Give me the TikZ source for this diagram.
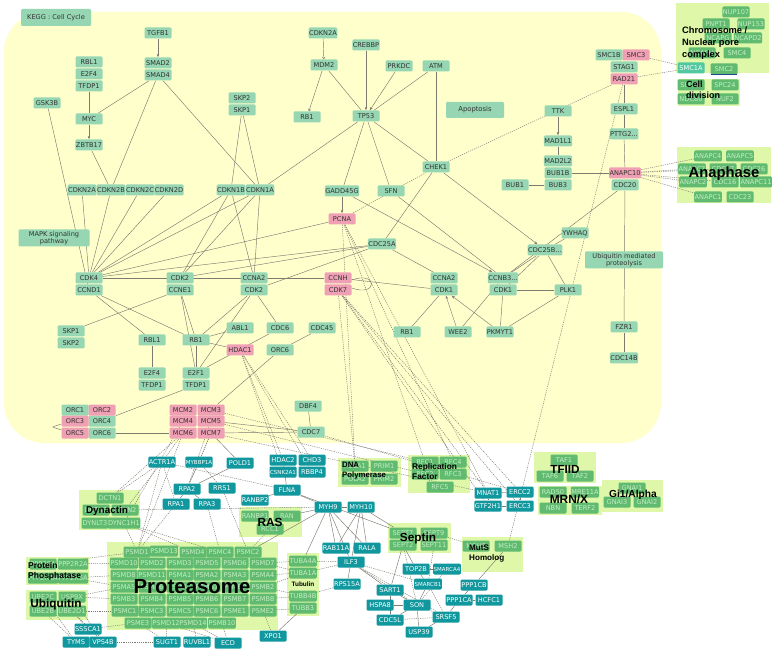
\documentclass[tikz,border=0pt]{standalone}
\usepackage{fontspec}
\usetikzlibrary{arrows.meta,calc}
\newfontfamily\nf{DejaVu Sans}
\newfontfamily\lf{Liberation Sans}
\definecolor{bgY}{RGB}{255,255,204}
\definecolor{nG}{RGB}{150,214,178}
\definecolor{nP}{RGB}{240,160,180}
\definecolor{nT}{RGB}{16,152,158}
\definecolor{cM}{RGB}{96,186,112}
\definecolor{cB}{RGB}{222,247,168}
\definecolor{cT}{RGB}{196,238,196}
\definecolor{eg}{RGB}{125,122,112}
\definecolor{sA}{RGB}{80,200,160}
\definecolor{dB}{RGB}{30,70,140}
\pgfdeclarelayer{bg}\pgfdeclarelayer{edges}\pgfsetlayers{bg,edges,main}
\begin{document}
\begin{tikzpicture}[x=1pt,y=-1pt,
 base/.style={rectangle, rounded corners=1.2pt, minimum width=27pt, minimum height=11pt, inner sep=0.5pt, font=\nf\fontsize{6.6}{7.4}\selectfont},
 g/.style={base, fill=nG, text=black!80},
 p/.style={base, fill=nP, text=black!80},
 t/.style={base, fill=nT, text=white},
 ts/.style={t, font=\nf\fontsize{5.5}{6.5}\selectfont},
 m/.style={base, fill=cM, text=cT},
 cx/.style={fill=cB},
 ed/.style={draw=eg, line width=0.45pt},
 dt/.style={draw=eg, line width=0.45pt, dash pattern=on 1.2pt off 1pt},
 ar/.style={ed, -{Stealth[length=3.5pt,width=2.6pt]}},
 oar/.style={ed, -{Straight Barb[length=2pt,width=3pt]}}
]
\useasboundingbox (0,0) rectangle (774,652);
\begin{pgfonlayer}{bg}
\fill[white] (0,0) rectangle (774,652);
\fill[bgY, rounded corners=40pt] (4,12) rectangle (661,443);
\fill[cx] (676,3) rectangle (769,73);
\fill[cx] (678,79) rectangle (740,106);
\fill[cx] (677,147) rectangle (771,203);
\fill[cx] (79,490) rectangle (140,530);
\fill[cx] (26,557) rectangle (89,585);
\fill[cx] (26,590) rectangle (88,620);
\fill[cx] (107,542) rectangle (278,630);
\fill[cx] (287,553) rectangle (319,616);
\fill[cx] (338,458) rectangle (401,487);
\fill[cx] (408,455) rectangle (470,493);
\fill[cx] (239,507) rectangle (302,537);
\fill[cx] (388,523) rectangle (451,553);
\fill[cx] (462,537) rectangle (523,572);
\fill[cx] (534,452) rectangle (596,483);
\fill[cx] (538,486) rectangle (602,515);
\fill[cx] (602,480) rectangle (663,512);
\end{pgfonlayer}

% special green nodes
\node[g, minimum width=70pt, minimum height=17pt] (kegg) at (56,17.5) {KEGG : Cell Cycle};
\node[g, minimum width=58pt, minimum height=16pt, font=\nf\fontsize{6.8}{7.6}\selectfont] (apop) at (475,110) {Apoptosis};
\node[g, minimum width=71pt, minimum height=17pt, align=center, font=\nf\fontsize{6.6}{7.6}\selectfont] (mapk) at (54,238) {MAPK signaling\\pathway};
\node[g, minimum width=78pt, minimum height=17pt, align=center, font=\nf\fontsize{6.6}{7.6}\selectfont] (ubq) at (624,260) {Ubiquitin mediated\\proteolysis};
\node[g] (pttg2) at (624,134) {PTTG2...};
\node[g] (ccnb3) at (503,278) {CCNB3...};
\node[g] (cdc25b) at (545,250) {CDC25B...};

% green nodes
\foreach \n/\x/\y/\s in {
 tgfb1/158/33/TGFB1, smad2/158/63/SMAD2, smad4/158/75/SMAD4,
 rbl1a/89/62/RBL1, e2f4a/89/74/E2F4, tfdp1a/89/86/TFDP1,
 gsk3b/47/103/GSK3B, myc/89/119/MYC, zbtb17/89/145/ZBTB17,
 skp2a/242/98/SKP2, skp1a/242/110/SKP1,
 cdkn2a/82/190/CDKN2A, cdkn2b/111/190/CDKN2B, cdkn2c/140/190/CDKN2C, cdkn2d/169/190/CDKN2D,
 cdkn1b/231/190/CDKN1B, cdkn1a/260/190/CDKN1A,
 cdkn2at/323/33/CDKN2A, mdm2/324/65/MDM2, crebbp/366/45/CREBBP, prkdc/399/66/PRKDC, atm/436/66/ATM,
 rb1a/307/117/RB1, tp53/366/116/TP53, chek1/436/167/CHEK1, gadd45g/342/191/GADD45G, sfn/391/191/SFN,
 smc1b/609/55/SMC1B, stag1/624/67/STAG1, ttk/558/111/TTK, espl1/624/109/ESPL1,
 mad1l1/558/141/MAD1L1, mad2l2/558/161/MAD2L2, bub1b/558/173/BUB1B, bub3/558/185/BUB3,
 bub1/515/185/BUB1, cdc20/625/185/CDC20,
 cdk4/89/278/CDK4, ccnd1/89/290/CCND1, cdk2a/180/278/CDK2, ccne1/180/290/CCNE1,
 ccna2a/254/278/CCNA2, cdk2b/254/290/CDK2, cdc25a/382/244/CDC25A,
 ccna2b/444/278/CCNA2, cdk1a/444/290/CDK1, cdk1b/503/290/CDK1,
 ywhaq/575/233/YWHAQ, plk1/568/290/PLK1,
 fzr1/624/327/FZR1, cdc14b/624/358/CDC14B,
 skp1b/71/331/SKP1, skp2b/71/343/SKP2, rbl1b/152/340/RBL1, rb1b/196/340/RB1, abl1/240/328/ABL1,
 e2f4b/152/373/E2F4, tfdp1b/152/385/TFDP1, e2f1/196/373/E2F1, tfdp1c/196/385/TFDP1,
 cdc6/280/328/CDC6, cdc45/322/328/CDC45, orc6b/280/350/ORC6,
 rb1c/407/332/RB1, wee2/458/332/WEE2, pkmyt1/500/332/PKMYT1,
 orc1/75/410/ORC1, orc4/102/421/ORC4, orc6/102/433/ORC6,
 dbf4/308/406/DBF4, cdc7/311/432/CDC7}
 \node[g] (\n) at (\x,\y) {\s};

% pink nodes
\foreach \n/\x/\y/\s in {
 pcna/342/219/PCNA, smc3/636/55/SMC3, rad21/624/79/RAD21, anapc10/625/173/ANAPC10,
 ccnh/338/278/CCNH, cdk7/338/290/CDK7, hdac1/240/350/HDAC1,
 orc2/102/410/ORC2, orc3/75/421/ORC3, orc5/75/433/ORC5,
 mcm2/183/410/MCM2, mcm3/211/410/MCM3, mcm4/183/421/MCM4, mcm5/211/421/MCM5, mcm6/183/433/MCM6, mcm7/211/433/MCM7}
 \node[p] (\n) at (\x,\y) {\s};

% teal nodes
\foreach \n/\x/\y/\s in {
 actr1a/162/462/ACTR1A, pold1/240/463/POLD1,
 rpa2/187/489/RPA2, rrs1/222/488/RRS1, rpa1/176/504/RPA1, rpa3/207/504/RPA3,
 hdac2/283/460/HDAC2, chd3/312/460/CHD3, rbbp4/312/472/RBBP4,
 flna/287/490/FLNA, ranbp2/255/500/RANBP2, myh9/328/507/MYH9, myh10/361/507/MYH10,
 rab11a/336/548/RAB11A, rala/367/548/RALA, ilf3/351/562/ILF3, rps15a/347/584/RPS15A,
 top2b/416/569/TOP2B, sart1/390/590/SART1,
 ppp1cb/474/585/PPP1CB, ppp1ca/459/600/PPP1CA, hcfc1/489/600/HCFC1,
 hspa8/380/605/HSPA8, son/417/605/SON, srsf5/446/617/SRSF5, cdc5l/390/620/CDC5L, usp39/419/632/USP39,
 xpo1/273/636/XPO1, sssca1/88/629/SSSCA1, tyms/76/642/TYMS, vps4b/103/642/VPS4B,
 sugt1/167/642/SUGT1, ruvbl1/197/642/RUVBL1, ecd/228/643/ECD,
 mnat1/488/493/MNAT1, gtf2h1/488/506/GTF2H1, ercc2/520/492/ERCC2, ercc3/520/506/ERCC3}
 \node[t] (\n) at (\x,\y) {\s};
\foreach \n/\x/\y/\s in {mybbp1a/199/462/MYBBP1A, csnk2a1/283/472/CSNK2A1,
 smarca/447/569/SMARCA4, smarcb/428/584/SMARCB1}
 \node[ts] (\n) at (\x,\y) {\s};

% complex members
\foreach \n/\x/\y/\s in {
 nup107/736/12/NUP107, pnpt1/716/24/PNPT1, nup153/751/24/NUP153, ncapg/718/38/NCAPG, ncapd2/748/38/NCAPD2,
 ncaph/702/53/NCAPH, smc4/737/53/SMC4, smc2/724/69/SMC2,
 spc25/691/85/SPC25, spc24/725/85/SPC24, ndc80/691/99/NDC80, nuf2/725/99/NUF2,
 anapc4/708/156/ANAPC4, anapc5/740/156/ANAPC5, anapc7/692/169/ANAPC7, cdc27/723/169/CDC27, cdc26/754/169/CDC26,
 anapc2/693/182/ANAPC2, cdc16/725/182/CDC16, anapc11/756/182/ANAPC11, anapc1/708/197/ANAPC1, cdc23/740/197/CDC23,
 dctn1/110/498/DCTN1, dctn3/96/510/DCTN3, dctn2/125/510/DCTN2, dynlt3/95/523/DYNLT3, dync1h1/124/523/DYNC1H1,
 ppp2ca/43/564/PPP2CA, ppp2r2a/73/564/PPP2R2A, ppp2r1a/43/578/PPP2R1A, ppp2r5a/73/578/PPP2R5A,
 ube2c/43/597/UBE2C, usp9x/72/597/USP9X, ube2b/43/611/UBE2B, ube2d1/72/611/UBE2D1,
 tuba4a/303/561/TUBA4A, tuba1a/303/573/TUBA1A, tubb4b/303/596/TUBB4B, tubb3/303/608/TUBB3,
 pola1/355/466/POLA1, prim1/384/466/PRIM1, pola2/355/479/POLA2, prim2/384/479/PRIM2,
 rfc1/425/462/RFC1, rfc4/453/462/RFC4, rfc2/425/474/RFC2, rfc3/453/474/RFC3, rfc5/440/487/RFC5,
 ranbp1/255/516/RANBP1, ran/287/516/RAN, rcc1/270/529/RCC1,
 sept7/403/533/SEPT7, sept9/434/533/SEPT9, sept2/403/545/SEPT2, sept11/434/545/SEPT11,
 msh6/476/546/MSH6, msh2/508/546/MSH2,
 taf1/564/460/TAF1, taf6/550/476/TAF6, taf2/580/476/TAF2,
 rad50/553/492/RAD50, mre11a/585/492/MRE11A, nbn/553/508/NBN, terf2/585/508/TERF2,
 gnai1/632/488/GNAI1, gnai3/617/502/GNAI3, gnai2/647/502/GNAI2,
 psmd1/137/552/PSMD1, psmd13/164/551/PSMD13, psmd4/193/552/PSMD4, psmc4/220/552/PSMC4, psmc2/248/552/PSMC2,
 psmd10/124/563/PSMD10, psmd2/152/563/PSMD2, psmd3/180/563/PSMD3, psmd5/207/563/PSMD5, psmd6/235/563/PSMD6, psmd7/263/563/PSMD7,
 psmd8/124/575/PSMD8, psmd11/152/575/PSMD11, psma1/180/575/PSMA1, psma2/207/575/PSMA2, psma3/235/575/PSMA3, psma4/263/575/PSMA4,
 psma5/124/587/PSMA5, psma6/152/587/PSMA6, psma7/180/587/PSMA7, psmb1/207/587/PSMB1, psmb9/235/587/PSMB9, psmb2/263/587/PSMB2,
 psmb3/124/599/PSMB3, psmb4/152/599/PSMB4, psmb5/180/599/PSMB5, psmb6/207/599/PSMB6, psmb7/235/599/PSMB7, psmb8/263/599/PSMB8,
 psmc1/125/611/PSMC1, psmc3/152/611/PSMC3, psmc5/180/611/PSMC5, psmc6/207/611/PSMC6, psme1/235/611/PSME1, psme2/263/611/PSME2,
 psme3/138/623/PSME3, psmd12/166/623/PSMD12, psmd14/193/623/PSMD14, psmb10/222/623/PSMB10}
 \node[m] (\n) at (\x,\y) {\s};
\node[base, fill=sA, text=white] (smc1a) at (691,68) {SMC1A};
\draw[dB, line width=1pt] ([xshift=1pt]smc2.south west) -- ([xshift=-1pt]smc2.south east);

\begin{pgfonlayer}{edges}
\foreach \a/\b in {
 smad4/myc, smad4/cdkn2b, smad4/cdkn1a, tfdp1a/myc, zbtb17/cdkn2b, gsk3b/ccnd1,
 cdkn2a/cdk4, cdkn2b/cdk4, cdkn2c/cdk4, cdkn2d/cdk4, cdkn1b/cdk4, cdkn1a/cdk4,
 cdkn1b/cdk2a, cdkn1a/cdk2a, cdkn1b/ccna2a, cdkn1a/ccna2a, skp1a/cdkn1b, skp1a/cdkn1a,
 mdm2/tp53, atm/tp53, atm/chek1, tp53/cdkn1a, tp53/gadd45g, tp53/sfn, tp53/chek1, sfn/ccnb3, chek1/cdc25a,
 mad1l1/mad2l2, bub1b/anapc10, bub1/bub3, rad21/espl1, espl1/pttg2, pttg2/anapc10, cdc20/fzr1, fzr1/cdc14b, cdc20/ccnb3,
 ywhaq/cdc25b, cdc25b/plk1, cdc25b/ccnb3, cdc25b/cdk1b, plk1/cdk1b, plk1/pkmyt1, ccnb3/wee2, cdk1b/pkmyt1,
 cdc25a/ccna2b, ccnh/cdk1a, cdk4/ccnh, cdk4/pcna, cdk4/cdc25a, cdk2a/cdc25a, cdk2b/cdc25a,
 ccnd1/rbl1b, ccnd1/rb1b, ccne1/skp1b, ccne1/rb1b, ccne1/e2f1, cdk2b/rb1b, cdk2b/e2f1, abl1/rb1b, rb1b/hdac1,
 rbl1b/e2f4b, rb1b/e2f1, e2f1/cdc6, cdk2b/cdc6, cdc45/orc6b, orc6b/mcm3, tfdp1c/orc4, orc6/mcm6,
 dbf4/cdc7, mcm7/cdc7, mcm5/cdc7, rb1c/cdk1a, mcm7/pold1,
 pold1/rpa2, rpa2/rpa1, rpa2/rpa3, flna/hdac2, flna/ranbp2, flna/myh9, flna/sept7, ran/myh9,
 myh9/myh10, myh9/rab11a, myh9/rala, myh10/rab11a, myh10/rala, myh9/ilf3, myh10/ilf3, tuba4a/myh9, myh9/psmc2,
 tubb3/xpo1, ilf3/rps15a, ilf3/sart1, sept2/sart1, sept2/top2b, top2b/smarca, top2b/smarcb, smarcb/son,
 sart1/cdc5l, hspa8/son, son/cdc5l, son/usp39, son/srsf5, srsf5/ppp1ca, ppp1ca/ppp1cb, ppp1ca/hcfc1, ppp1cb/msh2,
 mnat1/ercc2, mnat1/gtf2h1, ercc2/ercc3, gtf2h1/ercc3, srsf5/usp39, myh10/sept7, sart1/son}
 \draw[ed] (\a) -- (\b);
\foreach \a/\b in {tgfb1/smad2, myc/zbtb17, crebbp/tp53, prkdc/tp53, gadd45g/pcna, gadd45g/ccnb3,
 chek1/cdc25b, ttk/mad1l1, wee2/cdk1a, pkmyt1/cdk1a}
 \draw[ar] (\a) -- (\b);
\foreach \a/\b in {cdkn2at/mdm2, mdm2/rb1a}
 \draw[oar] (\a) -- (\b);
\foreach \a/\b in {
 chek1/pcna, chek1/rad21, smc3/smc1a, rad21/smc1a, rad21/msh2,
 anapc10/anapc4, anapc10/anapc7, anapc10/anapc2, anapc10/anapc1, anapc10/cdc27, anapc10/cdc16,
 pcna/pola1, pcna/rfc1, pcna/rfc4, pcna/mnat1,
 cdk7/pola1, cdk7/mnat1, cdk7/gtf2h1, cdk7/ercc2, cdk7/ercc3,
 hdac1/hdac2, hdac1/chd3, hdac1/csnk2a1, hdac1/rbbp4,
 mcm3/rfc1, mcm5/rfc2, mcm7/mnat1, cdc7/ercc2,
 mcm6/actr1a, mcm6/dctn1, mcm4/dync1h1, mcm7/mybbp1a, mcm7/rpa2, mcm5/rpa2, mcm6/psmd1,
 actr1a/dctn1, actr1a/dctn2, actr1a/psmd1, actr1a/rpa1, actr1a/flna,
 mybbp1a/rpa2, mybbp1a/rrs1, rpa1/psmd1, rpa3/psmc4, rrs1/psmc2,
 dync1h1/psmc4, dync1h1/psmd4, dctn2/myh9, dync1h1/psmd1, rcc1/psmc2,
 ppp2r2a/psmd10, ppp2r5a/psmd8, ppp2r5a/psma5, ppp2ca/psmd1,
 usp9x/psma5, usp9x/psmb3, ube2d1/psmc1,
 ube2b/tyms, ube2d1/vps4b, ube2c/tyms, usp9x/vps4b, ube2d1/sssca1,
 sssca1/psme3, vps4b/sugt1, psme3/sugt1, psmd12/sugt1, psmd14/ruvbl1, psmd14/ecd, psmb10/ecd, psmd12/ecd,
 psmd7/tuba4a, psma4/tuba1a, psmb2/tubb4b, psmb8/tubb4b, psme2/tubb3, psmb2/tuba1a, psmd7/tuba1a, psme2/xpo1,
 tuba4a/ilf3, tuba1a/ilf3, tubb4b/rps15a,
 ilf3/son, ilf3/srsf5, ilf3/smarcb, sept2/son, sept11/smarcb, sept9/msh6, smarca/son, smarcb/srsf5, srsf5/cdc5l}
 \draw[dt] (\a) -- (\b);
\draw[ed] ([yshift=-2pt]ccnh.east) to[out=20,in=-20,looseness=9] ([yshift=2pt]cdk7.east);
\draw[ed] ([yshift=-3pt]orc3.west) to[out=200,in=160,looseness=5] ([yshift=3pt]orc5.west);
\end{pgfonlayer}

% complex labels
\node[inner sep=0pt, anchor=north west, align=left, font=\lf\bfseries\fontsize{9.3}{12}\selectfont] (lchrom) at (682,27) {Chromosome /\\Nuclear pore\\complex};
\node[inner sep=0pt, anchor=north west, align=left, font=\lf\bfseries\fontsize{9}{11}\selectfont] (lcell) at (686,81) {Cell\\division};
\node[inner sep=0pt, font=\lf\bfseries\fontsize{14.8}{16}\selectfont] (lana) at (724,174) {Anaphase};
\node[inner sep=0pt, font=\lf\bfseries\fontsize{9.9}{11}\selectfont] (ldyn) at (107,510.5) {Dynactin};
\node[inner sep=0pt, anchor=north west, align=left, font=\lf\bfseries\fontsize{8.5}{10}\selectfont] (lpp) at (28,562) {Protein\\Phosphatase};
\node[inner sep=0pt, font=\lf\bfseries\fontsize{11.8}{13}\selectfont] (lubi) at (56,604) {Ubiquitin};
\node[inner sep=0pt, font=\lf\bfseries\fontsize{20.4}{22}\selectfont] (lprot) at (192,587) {Proteasome};
\node[inner sep=0pt, font=\lf\bfseries\fontsize{6.4}{7}\selectfont] (ltub) at (303,584) {Tubulin};
\node[inner sep=0pt, anchor=north west, align=left, font=\lf\bfseries\fontsize{7.8}{10}\selectfont] (ldna) at (342,462) {DNA\\Polymerase};
\node[inner sep=0pt, anchor=north west, align=left, font=\lf\bfseries\fontsize{8.3}{10}\selectfont] (lrfc) at (412,463) {Replication\\Factor};
\node[inner sep=0pt, font=\lf\bfseries\fontsize{11.8}{13}\selectfont] (lras) at (270,522) {RAS};
\node[inner sep=0pt, font=\lf\bfseries\fontsize{11.8}{13}\selectfont] (lsep) at (418,538) {Septin};
\node[inner sep=0pt, anchor=north west, align=left, font=\lf\bfseries\fontsize{8.1}{10}\selectfont] (lmuts) at (469,545) {MutS\\Homolog};
\node[inner sep=0pt, font=\lf\bfseries\fontsize{11.7}{13}\selectfont] (ltf) at (565,469) {TFIID};
\node[inner sep=0pt, font=\lf\bfseries\fontsize{11.9}{13}\selectfont] (lmrn) at (569,499) {MRN/X};
\node[inner sep=0pt, font=\lf\bfseries\fontsize{10.2}{11}\selectfont] (lgi) at (633,495) {Gi1/Alpha};
\end{tikzpicture}
\end{document}
